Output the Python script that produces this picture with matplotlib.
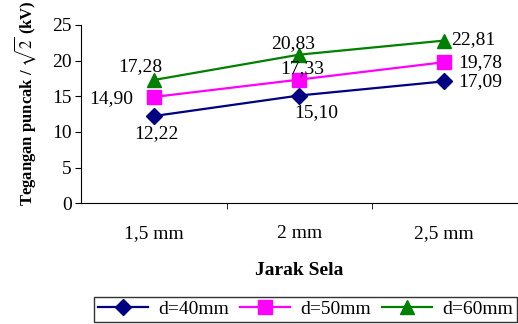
import matplotlib
matplotlib.use("Agg")
import matplotlib.pyplot as plt

# data
categories = ["1,5 mm", "2 mm", "2,5 mm"]
d40 = [12.22, 15.10, 17.09]
d50 = [14.90, 17.33, 19.78]
d60 = [17.28, 20.83, 22.81]
series_names = ["d=40mm", "d=50mm", "d=60mm"]

plt.rcParams["font.family"] = ["Liberation Serif", "DejaVu Serif"]
plt.rcParams["mathtext.fontset"] = "stix"

fig = plt.figure(figsize=(5.18, 3.24), dpi=100)
ax = fig.add_axes([0.157, 0.373, 0.841, 0.550])

x = range(len(categories))
styles = [
    (d40, "#000080", "D", 8.5),
    (d50, "#FF00FF", "s", 9.5),
    (d60, "#008000", "^", 10),
]
handles = []
for (vals, col, mk, ms), name in zip(styles, series_names):
    h, = ax.plot(x, vals, color=col, lw=1.6, marker=mk, ms=ms,
                 markerfacecolor=col, markeredgecolor=col, label=name)
    handles.append(h)

# data labels: (series, offsets in pixels, alignment) per point
label_pos = [
    (d40, [(2, -18, "center"), (17, -17, "center"), (14, 0, "left")]),
    (d50, [(-21, -2, "right"), (3, 11, "center"), (14, 0, "left")]),
    (d60, [(-14, 13, "center"), (-6, 11, "center"), (7, 1, "left")]),
]
for vals, offs in label_pos:
    for i, (v, (dx, dy, ha)) in enumerate(zip(vals, offs)):
        ax.annotate(f"{v:.2f}".replace(".", ","), xy=(i, v),
                    xytext=(dx, dy), textcoords="offset pixels",
                    ha=ha, va="center", fontsize=14)

ax.set_xlim(-0.5, len(categories) - 0.5)
ax.set_ylim(0, 25)
ax.set_yticks(range(0, 26, 5))
ax.set_xticks(list(x))
ax.set_xticklabels(categories)
ax.set_xticks([0.5, 1.5], minor=True)
ax.tick_params(axis="x", which="major", length=0, pad=16, labelsize=14)
ax.tick_params(axis="x", which="minor", length=4, direction="out")
ax.tick_params(axis="y", length=4, direction="out", pad=3, labelsize=14)
ax.spines["top"].set_visible(False)
ax.spines["right"].set_visible(False)

ax.set_xlabel("Jarak Sela", fontsize=14, fontweight="bold", labelpad=14)
ax.set_ylabel(r"Tegangan puncak / $\sqrt{2}$ (kV)", fontsize=12,
              fontweight="bold", va="center", ha="center")
ax.yaxis.set_label_coords(-0.13, 0.56)

leg = fig.legend(handles=handles, loc="lower left",
                 bbox_to_anchor=(0.181, 0.006, 0.817, 0.097), mode="expand",
                 ncol=3, fontsize=14, handlelength=2.6, frameon=True,
                 fancybox=False, borderaxespad=0, borderpad=0.2,
                 columnspacing=0.8, handletextpad=0.5)
leg.get_frame().set_edgecolor("black")
leg.get_frame().set_linewidth(1.0)

fig.savefig("out.png", dpi=100)
